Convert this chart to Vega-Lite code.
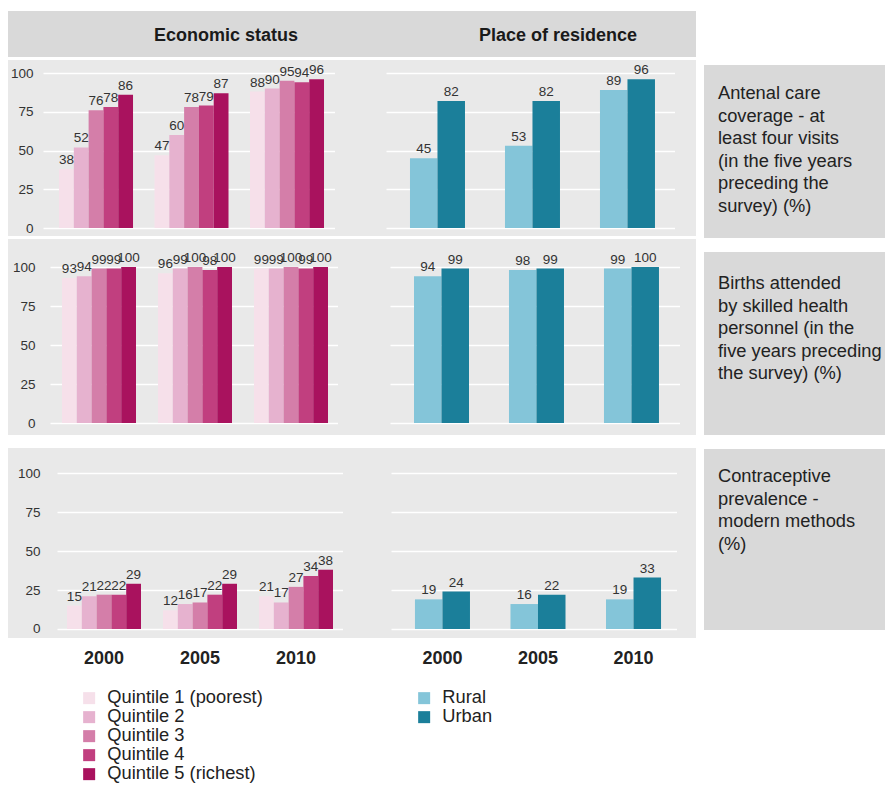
{
"$schema": "https://vega.github.io/schema/vega-lite/v6.json",
"padding": {"left": 8, "top": 11, "right": 0, "bottom": 0},
"autosize": {"type": "pad"},
"background": "white",
"datasets": {
 "dummy": [{"v": 0}],
 "econ": [
  {"ind":"anc","year":"2000","group":"Quintile 1 (poorest)","value":38},
  {"ind":"anc","year":"2000","group":"Quintile 2","value":52},
  {"ind":"anc","year":"2000","group":"Quintile 3","value":76},
  {"ind":"anc","year":"2000","group":"Quintile 4","value":78},
  {"ind":"anc","year":"2000","group":"Quintile 5 (richest)","value":86},
  {"ind":"anc","year":"2005","group":"Quintile 1 (poorest)","value":47},
  {"ind":"anc","year":"2005","group":"Quintile 2","value":60},
  {"ind":"anc","year":"2005","group":"Quintile 3","value":78},
  {"ind":"anc","year":"2005","group":"Quintile 4","value":79},
  {"ind":"anc","year":"2005","group":"Quintile 5 (richest)","value":87},
  {"ind":"anc","year":"2010","group":"Quintile 1 (poorest)","value":88},
  {"ind":"anc","year":"2010","group":"Quintile 2","value":90},
  {"ind":"anc","year":"2010","group":"Quintile 3","value":95},
  {"ind":"anc","year":"2010","group":"Quintile 4","value":94},
  {"ind":"anc","year":"2010","group":"Quintile 5 (richest)","value":96},
  {"ind":"sba","year":"2000","group":"Quintile 1 (poorest)","value":93},
  {"ind":"sba","year":"2000","group":"Quintile 2","value":94},
  {"ind":"sba","year":"2000","group":"Quintile 3","value":99},
  {"ind":"sba","year":"2000","group":"Quintile 4","value":99},
  {"ind":"sba","year":"2000","group":"Quintile 5 (richest)","value":100},
  {"ind":"sba","year":"2005","group":"Quintile 1 (poorest)","value":96},
  {"ind":"sba","year":"2005","group":"Quintile 2","value":99},
  {"ind":"sba","year":"2005","group":"Quintile 3","value":100},
  {"ind":"sba","year":"2005","group":"Quintile 4","value":98},
  {"ind":"sba","year":"2005","group":"Quintile 5 (richest)","value":100},
  {"ind":"sba","year":"2010","group":"Quintile 1 (poorest)","value":99},
  {"ind":"sba","year":"2010","group":"Quintile 2","value":99},
  {"ind":"sba","year":"2010","group":"Quintile 3","value":100},
  {"ind":"sba","year":"2010","group":"Quintile 4","value":99},
  {"ind":"sba","year":"2010","group":"Quintile 5 (richest)","value":100},
  {"ind":"cpr","year":"2000","group":"Quintile 1 (poorest)","value":15},
  {"ind":"cpr","year":"2000","group":"Quintile 2","value":21},
  {"ind":"cpr","year":"2000","group":"Quintile 3","value":22},
  {"ind":"cpr","year":"2000","group":"Quintile 4","value":22},
  {"ind":"cpr","year":"2000","group":"Quintile 5 (richest)","value":29},
  {"ind":"cpr","year":"2005","group":"Quintile 1 (poorest)","value":12},
  {"ind":"cpr","year":"2005","group":"Quintile 2","value":16},
  {"ind":"cpr","year":"2005","group":"Quintile 3","value":17},
  {"ind":"cpr","year":"2005","group":"Quintile 4","value":22},
  {"ind":"cpr","year":"2005","group":"Quintile 5 (richest)","value":29},
  {"ind":"cpr","year":"2010","group":"Quintile 1 (poorest)","value":21},
  {"ind":"cpr","year":"2010","group":"Quintile 2","value":17},
  {"ind":"cpr","year":"2010","group":"Quintile 3","value":27},
  {"ind":"cpr","year":"2010","group":"Quintile 4","value":34},
  {"ind":"cpr","year":"2010","group":"Quintile 5 (richest)","value":38}
 ],
 "res": [
  {"ind":"anc","year":"2000","area":"Rural","value":45},
  {"ind":"anc","year":"2000","area":"Urban","value":82},
  {"ind":"anc","year":"2005","area":"Rural","value":53},
  {"ind":"anc","year":"2005","area":"Urban","value":82},
  {"ind":"anc","year":"2010","area":"Rural","value":89},
  {"ind":"anc","year":"2010","area":"Urban","value":96},
  {"ind":"sba","year":"2000","area":"Rural","value":94},
  {"ind":"sba","year":"2000","area":"Urban","value":99},
  {"ind":"sba","year":"2005","area":"Rural","value":98},
  {"ind":"sba","year":"2005","area":"Urban","value":99},
  {"ind":"sba","year":"2010","area":"Rural","value":99},
  {"ind":"sba","year":"2010","area":"Urban","value":100},
  {"ind":"cpr","year":"2000","area":"Rural","value":19},
  {"ind":"cpr","year":"2000","area":"Urban","value":24},
  {"ind":"cpr","year":"2005","area":"Rural","value":16},
  {"ind":"cpr","year":"2005","area":"Urban","value":22},
  {"ind":"cpr","year":"2010","area":"Rural","value":19},
  {"ind":"cpr","year":"2010","area":"Urban","value":33}
 ]
},
"hconcat": [
 {
  "vconcat": [
   {
    "vconcat": [
     {
      "hconcat": [
       {"width": 436, "height": 46, "view": {"fill": "#d9d9d9", "stroke": null}, "data": {"name": "dummy"}, "mark": {"type": "point", "opacity": 0}, "encoding": {},
        "title": {"text": "Economic status", "anchor": "middle", "frame": "group", "orient": "bottom", "offset": -30, "baseline": "top", "fontSize": 18, "fontWeight": "bold", "color": "#1a1a1a"}},
       {"width": 252, "height": 46, "view": {"fill": "#d9d9d9", "stroke": null}, "data": {"name": "dummy"}, "mark": {"type": "point", "opacity": 0}, "encoding": {},
        "title": {"text": "Place of residence", "anchor": "middle", "frame": "group", "orient": "bottom", "offset": -30, "dx": -12, "baseline": "top", "fontSize": 18, "fontWeight": "bold", "color": "#1a1a1a"}}
      ],
      "spacing": 0, "bounds": "flush"
     },
     {
      "hconcat": [
       {"width": 35, "height": 176, "view": {"fill": "#e9e9e9", "stroke": null}, "data": {"name": "dummy"}, "mark": {"type": "point", "opacity": 0},
        "encoding": {"y": {"datum": 0, "type": "quantitative", "scale": {"domain": [-5.16, 108.39], "nice": false, "zero": false}, "axis": {"values": [0,25,50,75,100], "grid": false, "offset": -35, "labelPadding": 10, "title": null}}}},
       {"width": 292, "height": 176, "view": {"fill": "#e9e9e9", "stroke": null}, "data": {"name": "econ"},
        "transform": [{"filter": "datum.ind === 'anc'"}],
        "encoding": {
         "x": {"field": "year", "type": "nominal", "scale": {"paddingInner": 0.225, "paddingOuter": 0.1414, "align": 0.593}, "axis": null},
         "xOffset": {"field": "group", "type": "nominal", "scale": {"paddingInner": 0, "paddingOuter": 0}},
         "y": {"field": "value", "type": "quantitative", "scale": {"domain": [-5.16, 108.39], "nice": false, "zero": false}, "axis": {"values": [0,25,50,75,100], "labels": false, "grid": true, "title": null}}
        },
        "layer": [
         {"mark": {"type": "bar"}, "encoding": {"color": {"field": "group", "type": "nominal", "scale": {"domain": ["Quintile 1 (poorest)","Quintile 2","Quintile 3","Quintile 4","Quintile 5 (richest)"], "range": ["#f6e0ea","#e6b2cf","#d47ea9","#c13f7f","#a9125e"]}, "legend": null}}},
         {"mark": {"type": "text", "baseline": "bottom", "dy": -2, "fontSize": 13.5, "color": "#333"}, "encoding": {"text": {"field": "value", "type": "quantitative"}}}
        ]},
       {"width": 51, "height": 176, "view": {"fill": "#e9e9e9", "stroke": null}, "data": {"name": "dummy"}, "mark": {"type": "point", "opacity": 0}, "encoding": {}},
       {"width": 289, "height": 176, "view": {"fill": "#e9e9e9", "stroke": null}, "data": {"name": "res"},
        "transform": [{"filter": "datum.ind === 'anc'"}],
        "encoding": {
         "x": {"field": "year", "type": "nominal", "scale": {"paddingInner": 0.421, "paddingOuter": 0.2316, "align": 0.545}, "axis": null},
         "xOffset": {"field": "area", "type": "nominal", "scale": {"paddingInner": 0, "paddingOuter": 0}},
         "y": {"field": "value", "type": "quantitative", "scale": {"domain": [-5.16, 108.39], "nice": false, "zero": false}, "axis": {"values": [0,25,50,75,100], "labels": false, "grid": true, "title": null}}
        },
        "layer": [
         {"mark": {"type": "bar"}, "encoding": {"color": {"field": "area", "type": "nominal", "scale": {"domain": ["Rural","Urban"], "range": ["#84c5d9","#1b7f9a"]}, "legend": null}}},
         {"mark": {"type": "text", "baseline": "bottom", "dy": -2, "fontSize": 13.5, "color": "#333"}, "encoding": {"text": {"field": "value", "type": "quantitative"}}}
        ]},
       {"width": 21, "height": 176, "view": {"fill": "#e9e9e9", "stroke": null}, "data": {"name": "dummy"}, "mark": {"type": "point", "opacity": 0}, "encoding": {}}
      ],
      "spacing": 0, "bounds": "flush",
      "resolve": {"scale": {"color": "independent", "xOffset": "independent"}, "legend": {"color": "independent"}}
     },
     {
      "hconcat": [
       {"width": 42, "height": 196, "view": {"fill": "#e9e9e9", "stroke": null}, "data": {"name": "dummy"}, "mark": {"type": "point", "opacity": 0},
        "encoding": {"y": {"datum": 0, "type": "quantitative", "scale": {"domain": [-7.69, 117.95], "nice": false, "zero": false}, "axis": {"values": [0,25,50,75,100], "grid": false, "offset": -42, "labelPadding": 15, "title": null}}}},
       {"width": 288, "height": 196, "view": {"fill": "#e9e9e9", "stroke": null}, "data": {"name": "econ"},
        "transform": [{"filter": "datum.ind === 'sba'"}],
        "encoding": {
         "x": {"field": "year", "type": "nominal", "scale": {"paddingInner": 0.229, "paddingOuter": 0.1145, "align": 0.545}, "axis": null},
         "xOffset": {"field": "group", "type": "nominal", "scale": {"paddingInner": 0, "paddingOuter": 0}},
         "y": {"field": "value", "type": "quantitative", "scale": {"domain": [-7.69, 117.95], "nice": false, "zero": false}, "axis": {"values": [0,25,50,75,100], "labels": false, "grid": true, "title": null}}
        },
        "layer": [
         {"mark": {"type": "bar"}, "encoding": {"color": {"field": "group", "type": "nominal", "scale": {"domain": ["Quintile 1 (poorest)","Quintile 2","Quintile 3","Quintile 4","Quintile 5 (richest)"], "range": ["#f6e0ea","#e6b2cf","#d47ea9","#c13f7f","#a9125e"]}, "legend": null}}},
         {"mark": {"type": "text", "baseline": "bottom", "dy": -2, "fontSize": 13.5, "color": "#333"}, "encoding": {"text": {"field": "value", "type": "quantitative"}}}
        ]},
       {"width": 52, "height": 196, "view": {"fill": "#e9e9e9", "stroke": null}, "data": {"name": "dummy"}, "mark": {"type": "point", "opacity": 0}, "encoding": {}},
       {"width": 290, "height": 196, "view": {"fill": "#e9e9e9", "stroke": null}, "data": {"name": "res"},
        "transform": [{"filter": "datum.ind === 'sba'"}],
        "encoding": {
         "x": {"field": "year", "type": "nominal", "scale": {"paddingInner": 0.421, "paddingOuter": 0.237, "align": 0.533}, "axis": null},
         "xOffset": {"field": "area", "type": "nominal", "scale": {"paddingInner": 0, "paddingOuter": 0}},
         "y": {"field": "value", "type": "quantitative", "scale": {"domain": [-7.69, 117.95], "nice": false, "zero": false}, "axis": {"values": [0,25,50,75,100], "labels": false, "grid": true, "title": null}}
        },
        "layer": [
         {"mark": {"type": "bar"}, "encoding": {"color": {"field": "area", "type": "nominal", "scale": {"domain": ["Rural","Urban"], "range": ["#84c5d9","#1b7f9a"]}, "legend": null}}},
         {"mark": {"type": "text", "baseline": "bottom", "dy": -2, "fontSize": 13.5, "color": "#333"}, "encoding": {"text": {"field": "value", "type": "quantitative"}}}
        ]},
       {"width": 16, "height": 196, "view": {"fill": "#e9e9e9", "stroke": null}, "data": {"name": "dummy"}, "mark": {"type": "point", "opacity": 0}, "encoding": {}}
      ],
      "spacing": 0, "bounds": "flush",
      "resolve": {"scale": {"color": "independent", "xOffset": "independent"}, "legend": {"color": "independent"}}
     }
    ],
    "spacing": 3,
    "resolve": {"scale": {"color": "independent", "xOffset": "independent"}, "legend": {"color": "independent"}}
   },
   {
    "hconcat": [
     {"width": 49, "height": 190, "view": {"fill": "#e9e9e9", "stroke": null}, "data": {"name": "dummy"}, "mark": {"type": "point", "opacity": 0},
      "encoding": {"y": {"datum": 0, "type": "quantitative", "scale": {"domain": [-5.77, 116.03], "nice": false, "zero": false}, "axis": {"values": [0,25,50,75,100], "grid": false, "offset": -49, "labelPadding": 17, "title": null}}}},
     {"width": 286, "height": 190, "view": {"fill": "#e9e9e9", "stroke": null}, "data": {"name": "econ"},
      "transform": [{"filter": "datum.ind === 'cpr'"}],
      "encoding": {
       "x": {"field": "year", "type": "nominal", "scale": {"paddingInner": 0.229, "paddingOuter": 0.104, "align": 0.5}, "axis": {"title": null, "labelFontWeight": "bold", "labelFontSize": 18, "labelColor": "#222", "labelPadding": 11, "labelAngle": 0}},
       "xOffset": {"field": "group", "type": "nominal", "scale": {"paddingInner": 0, "paddingOuter": 0}},
       "y": {"field": "value", "type": "quantitative", "scale": {"domain": [-5.77, 116.03], "nice": false, "zero": false}, "axis": {"values": [0,25,50,75,100], "labels": false, "grid": true, "title": null}}
      },
      "layer": [
       {"mark": {"type": "bar"}, "encoding": {"color": {"field": "group", "type": "nominal", "scale": {"domain": ["Quintile 1 (poorest)","Quintile 2","Quintile 3","Quintile 4","Quintile 5 (richest)"], "range": ["#f6e0ea","#e6b2cf","#d47ea9","#c13f7f","#a9125e"]},
         "legend": {"orient": "none", "legendX": 23, "legendY": 241, "title": null, "symbolType": "square", "symbolSize": 144, "symbolStrokeWidth": 0, "labelFontSize": 18.3, "labelColor": "#222", "labelOffset": 9, "rowPadding": 0, "direction": "vertical"}}}},
       {"mark": {"type": "text", "baseline": "bottom", "dy": -2, "fontSize": 13.5, "color": "#333"}, "encoding": {"text": {"field": "value", "type": "quantitative"}}}
      ]},
     {"width": 48, "height": 190, "view": {"fill": "#e9e9e9", "stroke": null}, "data": {"name": "dummy"}, "mark": {"type": "point", "opacity": 0}, "encoding": {}},
     {"width": 286, "height": 190, "view": {"fill": "#e9e9e9", "stroke": null}, "data": {"name": "res"},
      "transform": [{"filter": "datum.ind === 'cpr'"}],
      "encoding": {
       "x": {"field": "year", "type": "nominal", "scale": {"paddingInner": 0.424, "paddingOuter": 0.209, "align": 0.6}, "axis": {"title": null, "labelFontWeight": "bold", "labelFontSize": 18, "labelColor": "#222", "labelPadding": 11, "labelAngle": 0}},
       "xOffset": {"field": "area", "type": "nominal", "scale": {"paddingInner": 0, "paddingOuter": 0}},
       "y": {"field": "value", "type": "quantitative", "scale": {"domain": [-5.77, 116.03], "nice": false, "zero": false}, "axis": {"values": [0,25,50,75,100], "labels": false, "grid": true, "title": null}}
      },
      "layer": [
       {"mark": {"type": "bar"}, "encoding": {"color": {"field": "area", "type": "nominal", "scale": {"domain": ["Rural","Urban"], "range": ["#84c5d9","#1b7f9a"]},
         "legend": {"orient": "none", "legendX": 24, "legendY": 241, "title": null, "symbolType": "square", "symbolSize": 144, "symbolStrokeWidth": 0, "labelFontSize": 18.3, "labelColor": "#222", "labelOffset": 9, "rowPadding": 0, "direction": "vertical"}}}},
       {"mark": {"type": "text", "baseline": "bottom", "dy": -2, "fontSize": 13.5, "color": "#333"}, "encoding": {"text": {"field": "value", "type": "quantitative"}}}
      ]},
     {"width": 19, "height": 190, "view": {"fill": "#e9e9e9", "stroke": null}, "data": {"name": "dummy"}, "mark": {"type": "point", "opacity": 0}, "encoding": {}}
    ],
    "spacing": 0, "bounds": "flush",
    "resolve": {"scale": {"color": "independent", "xOffset": "independent"}, "legend": {"color": "independent"}}
   }
  ],
  "spacing": 13,
  "resolve": {"scale": {"color": "independent", "xOffset": "independent"}, "legend": {"color": "independent"}}
 },
 {
  "vconcat": [
   {"width": 181, "height": 40, "view": {"fill": null, "stroke": null}, "data": {"name": "dummy"}, "mark": {"type": "point", "opacity": 0}, "encoding": {}},
   {"width": 181, "height": 173, "view": {"fill": "#d9d9d9", "stroke": null}, "data": {"name": "dummy"}, "mark": {"type": "point", "opacity": 0}, "encoding": {},
    "title": {"text": ["Antenal care", "coverage - at", "least four visits", "(in the five years", "preceding the", "survey) (%)"], "anchor": "start", "frame": "group", "orient": "bottom", "offset": -153, "dx": 14, "baseline": "top", "lineHeight": 22.5, "fontSize": 18.3, "fontWeight": "normal", "color": "#222"}},
   {"width": 181, "height": 183, "view": {"fill": "#d9d9d9", "stroke": null}, "data": {"name": "dummy"}, "mark": {"type": "point", "opacity": 0}, "encoding": {},
    "title": {"text": ["Births attended", "by skilled health", "personnel (in the", "five years preceding", "the survey)  (%)"], "anchor": "start", "frame": "group", "orient": "bottom", "offset": -160, "dx": 14, "baseline": "top", "lineHeight": 22.5, "fontSize": 18.3, "fontWeight": "normal", "color": "#222"}},
   {"width": 181, "height": 181, "view": {"fill": "#d9d9d9", "stroke": null}, "data": {"name": "dummy"}, "mark": {"type": "point", "opacity": 0}, "encoding": {},
    "title": {"text": ["Contraceptive", "prevalence -", "modern methods", "(%)"], "anchor": "start", "frame": "group", "orient": "bottom", "offset": -162, "dx": 14, "baseline": "top", "lineHeight": 22.5, "fontSize": 18.3, "fontWeight": "normal", "color": "#222"}}
  ],
  "spacing": 14, "bounds": "flush"
 }
],
"spacing": 8,
"resolve": {"scale": {"color": "independent", "xOffset": "independent"}, "legend": {"color": "independent"}},
"config": {
 "font": "Liberation Sans",
 "view": {"stroke": null},
 "axis": {"domain": false, "ticks": false, "tickSize": 0, "labelColor": "#333", "labelFontSize": 13.5, "gridColor": "#ffffff", "gridWidth": 1.6, "gridOpacity": 1},
 "title": {"font": "Liberation Sans"},
 "legend": {"labelFont": "Liberation Sans", "padding": 0}
}
}
